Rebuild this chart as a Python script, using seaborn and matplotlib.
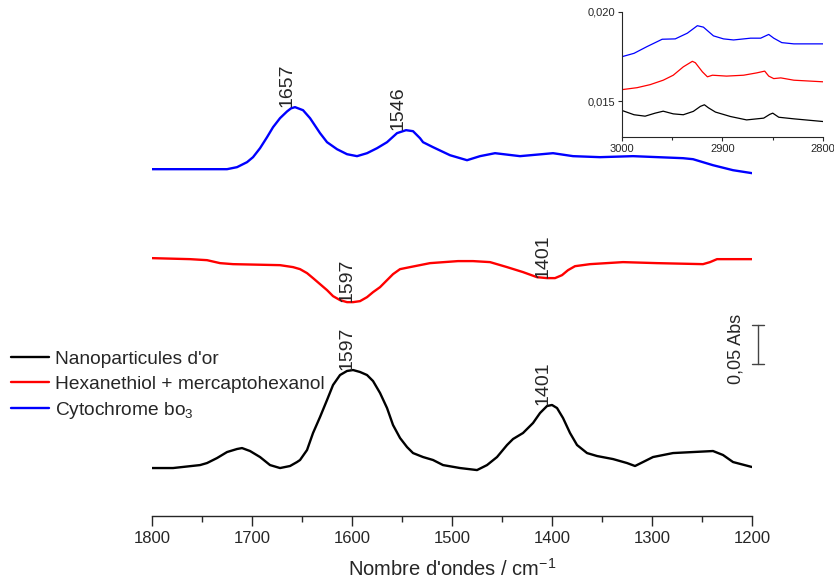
import numpy as np
import pandas as pd
import matplotlib
matplotlib.use('Agg')
import matplotlib.pyplot as plt
import seaborn as sns

# --- main spectra (wavenumber in cm-1, absorbance relative to each baseline) ---
wn_gold = [1800, 1779, 1752, 1745, 1735, 1725, 1715, 1710, 1702, 1692, 1682, 1672,
           1662, 1655, 1652, 1645, 1639, 1632, 1625, 1619, 1612, 1605, 1599, 1592,
           1585, 1579, 1572, 1565, 1559, 1552, 1545, 1539, 1529, 1519, 1509, 1492,
           1475, 1465, 1455, 1445, 1439, 1429, 1419, 1412, 1405, 1400, 1395, 1389,
           1382, 1375, 1365, 1355, 1339, 1325, 1317, 1309, 1299, 1279, 1239, 1229,
           1219, 1200]
abs_gold = [0.0, 0.0, 0.0038, 0.0064, 0.0128, 0.0205, 0.0244, 0.0256, 0.0218, 0.0141, 0.0038, 0.0,
            0.0026, 0.0077, 0.0103, 0.0231, 0.0449, 0.0654, 0.0872, 0.1064, 0.1192, 0.1244, 0.1256, 0.1231,
            0.1192, 0.1115, 0.0962, 0.0769, 0.0551, 0.0385, 0.0269, 0.0192, 0.0141, 0.0103, 0.0038, 0.0,
            -0.0026, 0.0038, 0.0141, 0.0295, 0.0372, 0.0449, 0.0577, 0.0705, 0.0795, 0.0808, 0.0769, 0.0641,
            0.0449, 0.0295, 0.0192, 0.0154, 0.0115, 0.0064, 0.0026, 0.0077, 0.0141, 0.0192, 0.0218, 0.0167,
            0.0077, 0.0013]

wn_thiol = [1800, 1762, 1745, 1732, 1719, 1672, 1659, 1652, 1645, 1639, 1632, 1625,
            1619, 1612, 1605, 1599, 1592, 1585, 1579, 1572, 1565, 1559, 1552, 1542,
            1522, 1494, 1479, 1462, 1445, 1429, 1415, 1405, 1397, 1390, 1384, 1377,
            1362, 1329, 1295, 1249, 1242, 1235, 1200]
abs_thiol = [0.0, -0.0013, -0.0026, -0.0064, -0.0077, -0.0090, -0.0115, -0.0141, -0.0192, -0.0256, -0.0333, -0.0410,
             -0.0487, -0.0538, -0.0564, -0.0564, -0.0551, -0.0500, -0.0436, -0.0372, -0.0282, -0.0205, -0.0141, -0.0115,
             -0.0064, -0.0038, -0.0038, -0.0051, -0.0115, -0.0179, -0.0244, -0.0256, -0.0256, -0.0218, -0.0154, -0.0103,
             -0.0077, -0.0051, -0.0064, -0.0077, -0.0051, -0.0013, -0.0013]

wn_cyto = [1800, 1725, 1715, 1705, 1699, 1692, 1685, 1679, 1672, 1665, 1661, 1657,
           1649, 1642, 1632, 1625, 1615, 1605, 1595, 1585, 1575, 1565, 1555, 1546,
           1539, 1532, 1529, 1519, 1502, 1485, 1472, 1457, 1432, 1399, 1379, 1352,
           1319, 1269, 1259, 1239, 1219, 1200]
abs_cyto = [0.0, 0.0, 0.0026, 0.0090, 0.0154, 0.0269, 0.0410, 0.0538, 0.0654, 0.0740, 0.0780, 0.0795,
            0.0756, 0.0654, 0.0462, 0.0346, 0.0256, 0.0192, 0.0167, 0.0205, 0.0269, 0.0346, 0.0462, 0.0500,
            0.0487, 0.0397, 0.0346, 0.0282, 0.0179, 0.0115, 0.0167, 0.0205, 0.0167, 0.0205, 0.0167, 0.0154,
            0.0167, 0.0141, 0.0128, 0.0051, -0.0013, -0.0051]

labels = ["Nanoparticules d'or", "Hexanethiol + mercaptohexanol",
          "Cytochrome bo$_\\mathregular{3}$"]
offsets = [0.0, 0.269, 0.383]
colors = ['#000000', '#ff0000', '#0000ff']

# peak annotations: (series index, wavenumber)
peaks = [(2, 1657), (2, 1546), (1, 1597), (1, 1401), (0, 1597), (0, 1401)]

# --- inset (C-H region) ---
wn_in_gold = [3000, 2988, 2977, 2967, 2959, 2949, 2939, 2929, 2922, 2918, 2914, 2907,
              2892, 2876, 2859, 2853, 2850, 2844, 2829, 2800]
in_gold = [0.01447, 0.01423, 0.01415, 0.01432, 0.01443, 0.01428, 0.01423, 0.01442, 0.01470, 0.01479,
           0.01462, 0.01438, 0.01413, 0.01394, 0.01404, 0.01425, 0.01432, 0.01409, 0.01400, 0.01385]
wn_in_thiol = [3000, 2985, 2972, 2959, 2949, 2939, 2930, 2927, 2920, 2915, 2910, 2896,
               2879, 2866, 2858, 2854, 2849, 2842, 2829, 2800]
in_thiol = [0.01564, 0.01575, 0.01592, 0.01617, 0.01645, 0.01692, 0.01723, 0.01715, 0.01664, 0.01636,
            0.01645, 0.01640, 0.01645, 0.01658, 0.01668, 0.01640, 0.01626, 0.01630, 0.01617, 0.01608]
wn_in_cyto = [3000, 2988, 2975, 2960, 2947, 2935, 2925, 2919, 2909, 2899, 2889, 2872,
              2862, 2854, 2849, 2841, 2829, 2800]
in_cyto = [0.01749, 0.01768, 0.01806, 0.01847, 0.01849, 0.01881, 0.01923, 0.01915, 0.01866, 0.01849,
           0.01843, 0.01853, 0.01853, 0.01874, 0.01853, 0.01828, 0.01821, 0.01821]

sns.set_style('ticks')
plt.rcParams['font.family'] = ['Liberation Sans', 'DejaVu Sans']
plt.rcParams['mathtext.fontset'] = 'custom'
plt.rcParams['mathtext.rm'] = 'Liberation Sans'
plt.rcParams['mathtext.it'] = 'Liberation Sans:italic'

fig = plt.figure(figsize=(8.34, 5.85), dpi=100)
ax = fig.add_axes([0.1823, 0.1179, 0.7194, 0.865])

series = [(wn_gold, abs_gold), (wn_thiol, abs_thiol), (wn_cyto, abs_cyto)]
for (wn, vals), off, col, lab in zip(series, offsets, colors, labels):
    df = pd.DataFrame({'wn': wn, 'a': np.array(vals) + off})
    sns.lineplot(data=df, x='wn', y='a', ax=ax, color=col, lw=1.7, sort=False, label=lab)

# peak labels sit on the local extremum of each curve
for idx, w in peaks:
    wn, vals = series[idx]
    arr = np.array(wn)
    near = np.abs(arr - w) <= 6
    v = np.array(vals)[near]
    y = (v.max() if v.mean() > 0 else v.min()) + offsets[idx]
    ax.text(w, y, str(w), rotation=90, ha='right', va='bottom', fontsize=14)

ax.set_xlim(1800, 1200)
ax.set_ylim(-0.0615, 0.587)
ax.set_xticks(np.arange(1800, 1199, -100))
ax.set_xticks(np.arange(1750, 1200, -100), minor=True)
ax.tick_params(axis='x', which='major', direction='out', length=7, width=1, labelsize=12, pad=4)
ax.tick_params(axis='x', which='minor', direction='out', length=4, width=1)
ax.set_yticks([])
for s in ['left', 'right', 'top']:
    ax.spines[s].set_visible(False)
ax.spines['bottom'].set_linewidth(1)
ax.set_xlabel("Nombre d'ondes / cm$^\\mathregular{-1}$", fontsize=14.5, labelpad=8)
ax.set_ylabel('')

# scale bar 0,05 Abs
bar_x, bar_low, bar_len = 1194, 0.1333, 0.05
ax.plot([bar_x, bar_x], [bar_low, bar_low + bar_len], color='#444444', lw=1, clip_on=False)
for yy in [bar_low, bar_low + bar_len]:
    ax.plot([bar_x + 6, bar_x - 6], [yy, yy], color='#444444', lw=1, clip_on=False)
ax.text(1216, bar_low + bar_len / 2 - 0.006, '0,05 Abs', rotation=90, ha='center', va='center', fontsize=13)

leg = ax.legend(loc='upper left', bbox_to_anchor=(0.004, 0.414), bbox_transform=fig.transFigure,
                frameon=False, fontsize=13.8, handlelength=2.0, handletextpad=0.3,
                labelspacing=0.38, borderaxespad=0)

# inset
axi = fig.add_axes([0.7458, 0.7658, 0.2410, 0.2137])
for wn, vals, col in [(wn_in_gold, in_gold, colors[0]), (wn_in_thiol, in_thiol, colors[1]),
                      (wn_in_cyto, in_cyto, colors[2])]:
    sns.lineplot(x=wn, y=vals, ax=axi, color=col, lw=0.9, sort=False)
axi.set_xlim(3000, 2800)
axi.set_ylim(0.01298, 0.0200)
axi.set_xticks([3000, 2900, 2800])
axi.set_xticks([2950, 2850], minor=True)
axi.set_yticks([0.015, 0.020])
axi.set_yticklabels(['0,015', '0,020'])
axi.tick_params(which='major', direction='out', length=3, width=0.8, labelsize=8, pad=2)
axi.tick_params(which='minor', direction='out', length=2, width=0.8)
for s in ['right', 'top']:
    axi.spines[s].set_visible(False)
for s in ['left', 'bottom']:
    axi.spines[s].set_linewidth(0.8)
axi.patch.set_alpha(0)

fig.savefig('out.png', dpi=100)
